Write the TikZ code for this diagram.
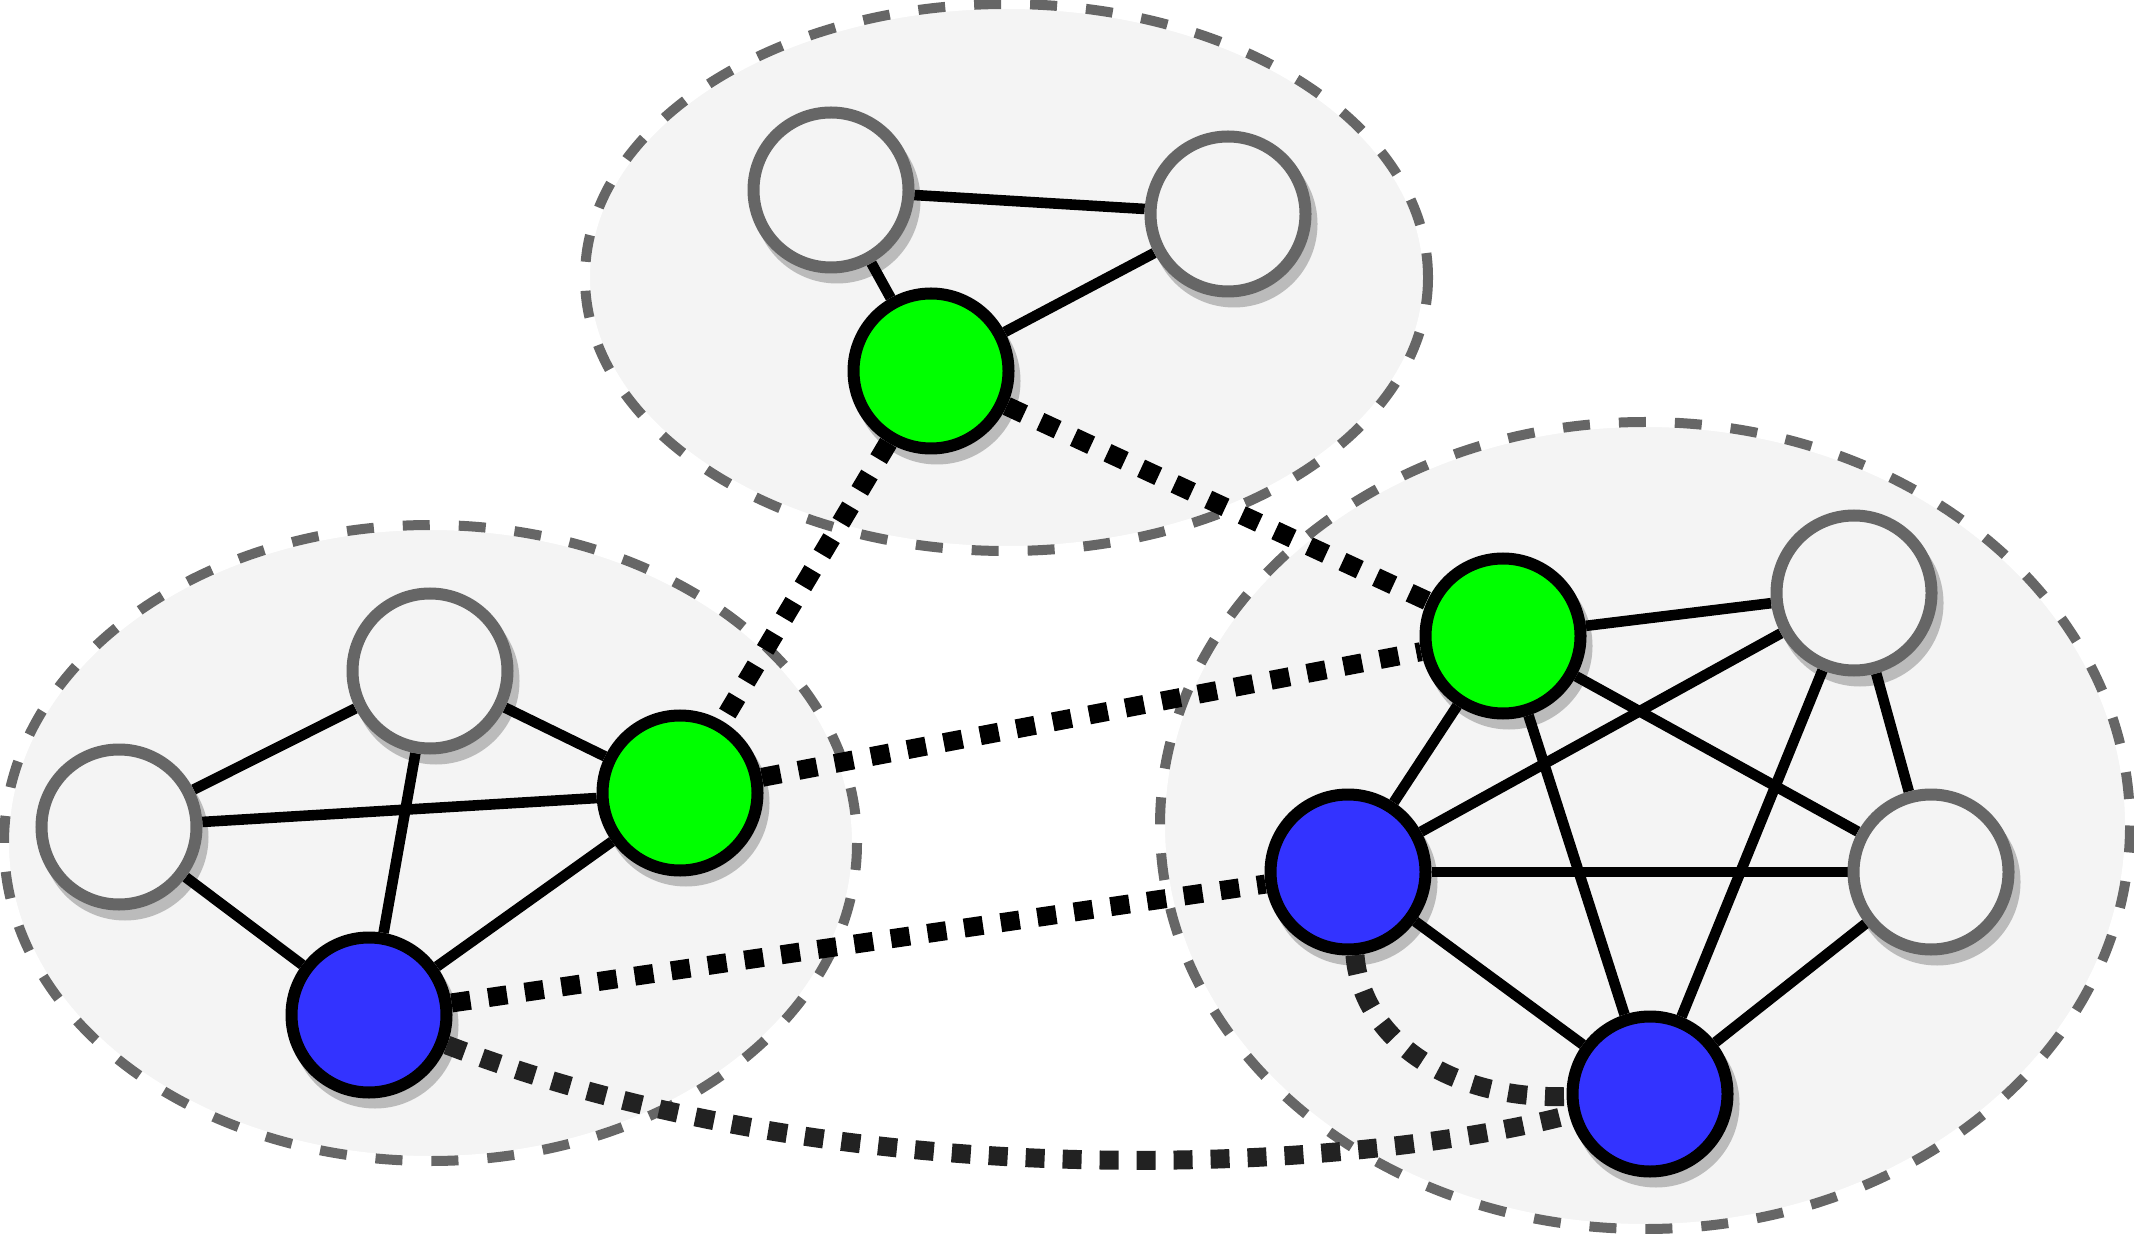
\documentclass[tikz,border=0pt]{standalone}
\usetikzlibrary{calc}
\definecolor{ellfill}{HTML}{F4F4F4}
\definecolor{ellline}{HTML}{666666}
\definecolor{nodegray}{HTML}{666666}
\definecolor{shadowc}{HTML}{BBBBBB}
\definecolor{gnodec}{HTML}{00FF00}
\definecolor{bnodec}{HTML}{3333FF}
\definecolor{curvec}{HTML}{222222}
\pgfdeclarelayer{ellayer}
\pgfdeclarelayer{shadowlayer}
\pgfdeclarelayer{edgelayer}
\pgfsetlayers{ellayer,shadowlayer,edgelayer,main}
\begin{document}
\begin{tikzpicture}[x=0.5pt,y=-0.5pt,
  cluster/.style={fill=ellfill},
  clusterrim/.style={draw=white, line width=5pt},
  clusterdash/.style={draw=ellline, line width=5pt, dash pattern=on 13.5pt off 14.5pt},
  vertex/.style={circle, minimum size=77.5pt, inner sep=0pt, line width=6pt},
  plainv/.style={vertex, fill=ellfill, draw=nodegray},
  gvertex/.style={vertex, fill=gnodec, draw=black},
  bvertex/.style={vertex, fill=bnodec, draw=black},
  link/.style={line width=5.3pt, draw=black},
  dotlink/.style={line width=9.5pt, dash pattern=on 9.5pt off 9pt, draw=black},
  dotcurve/.style={dotlink, draw=curvec},
  shadowdisc/.style={fill=shadowc}
]
\useasboundingbox (0,0) rectangle (2134,1234);

% vertices
\node[plainv] (T1) at (831,190) {};
\node[plainv] (T2) at (1228,214) {};
\node[gvertex] (T3) at (931,371) {};
\node[plainv] (L1) at (119,827) {};
\node[plainv] (L2) at (430,671) {};
\node[gvertex] (L3) at (680,793) {};
\node[bvertex] (L4) at (369,1015) {};
\node[gvertex] (R1) at (1503,636) {};
\node[plainv] (R2) at (1854,593) {};
\node[bvertex] (R3) at (1348,872) {};
\node[plainv] (R4) at (1931,872) {};
\node[bvertex] (R5) at (1650,1094) {};

% clusters
\begin{pgfonlayer}{ellayer}
\foreach \cx/\cy/\rx/\ry in {1006.5/277.5/421.5/273.5, 430.5/843/426.5/318, 1645/825.5/485/403.5}{
  \path[cluster] (\cx,\cy) ellipse [x radius=\rx, y radius=\ry];
  \path[clusterrim] (\cx,\cy) ellipse [x radius=\rx, y radius=\ry];
  \path[clusterdash] (\cx,\cy) ellipse [x radius=\rx, y radius=\ry];
}
\end{pgfonlayer}

% shadows
\begin{pgfonlayer}{shadowlayer}
\foreach \n in {T1,T2,T3,L1,L2,L3,L4,R1,R2,R3,R4,R5}
  \path[shadowdisc] ([shift={(6,10)}]\n.center) circle [radius=83.5];
\end{pgfonlayer}

% edges
\begin{pgfonlayer}{edgelayer}
\draw[link] (T1) -- (T2);
\draw[link] (T1) -- (T3);
\draw[link] (T3) -- (T2);
\draw[link] (L1) -- (L2);
\draw[link] (L1) -- (L3);
\draw[link] (L1) -- (L4);
\draw[link] (L2) -- (L3);
\draw[link] (L2) -- (L4);
\draw[link] (L3) -- (L4);
\draw[link] (R1) -- (R2);
\draw[link] (R1) -- (R3);
\draw[link] (R1) -- (R4);
\draw[link] (R1) -- (R5);
\draw[link] (R2) -- (R3);
\draw[link] (R2) -- (R4);
\draw[link] (R2) -- (R5);
\draw[link] (R3) -- (R4);
\draw[link] (R3) -- (R5);
\draw[link] (R4) -- (R5);
\draw[dotlink] (T3) -- (L3);
\draw[dotlink] (T3) -- (R1);
\draw[dotlink] (L3) -- (R1);
\draw[dotlink] (L4) -- (R3);
\draw[dotcurve] (L4) .. controls (850,1200) and (1350,1172) .. (R5);
\draw[dotcurve] (R3) .. controls (1362,1040) and (1450,1100) .. (R5);
\end{pgfonlayer}
\end{tikzpicture}
\end{document}
